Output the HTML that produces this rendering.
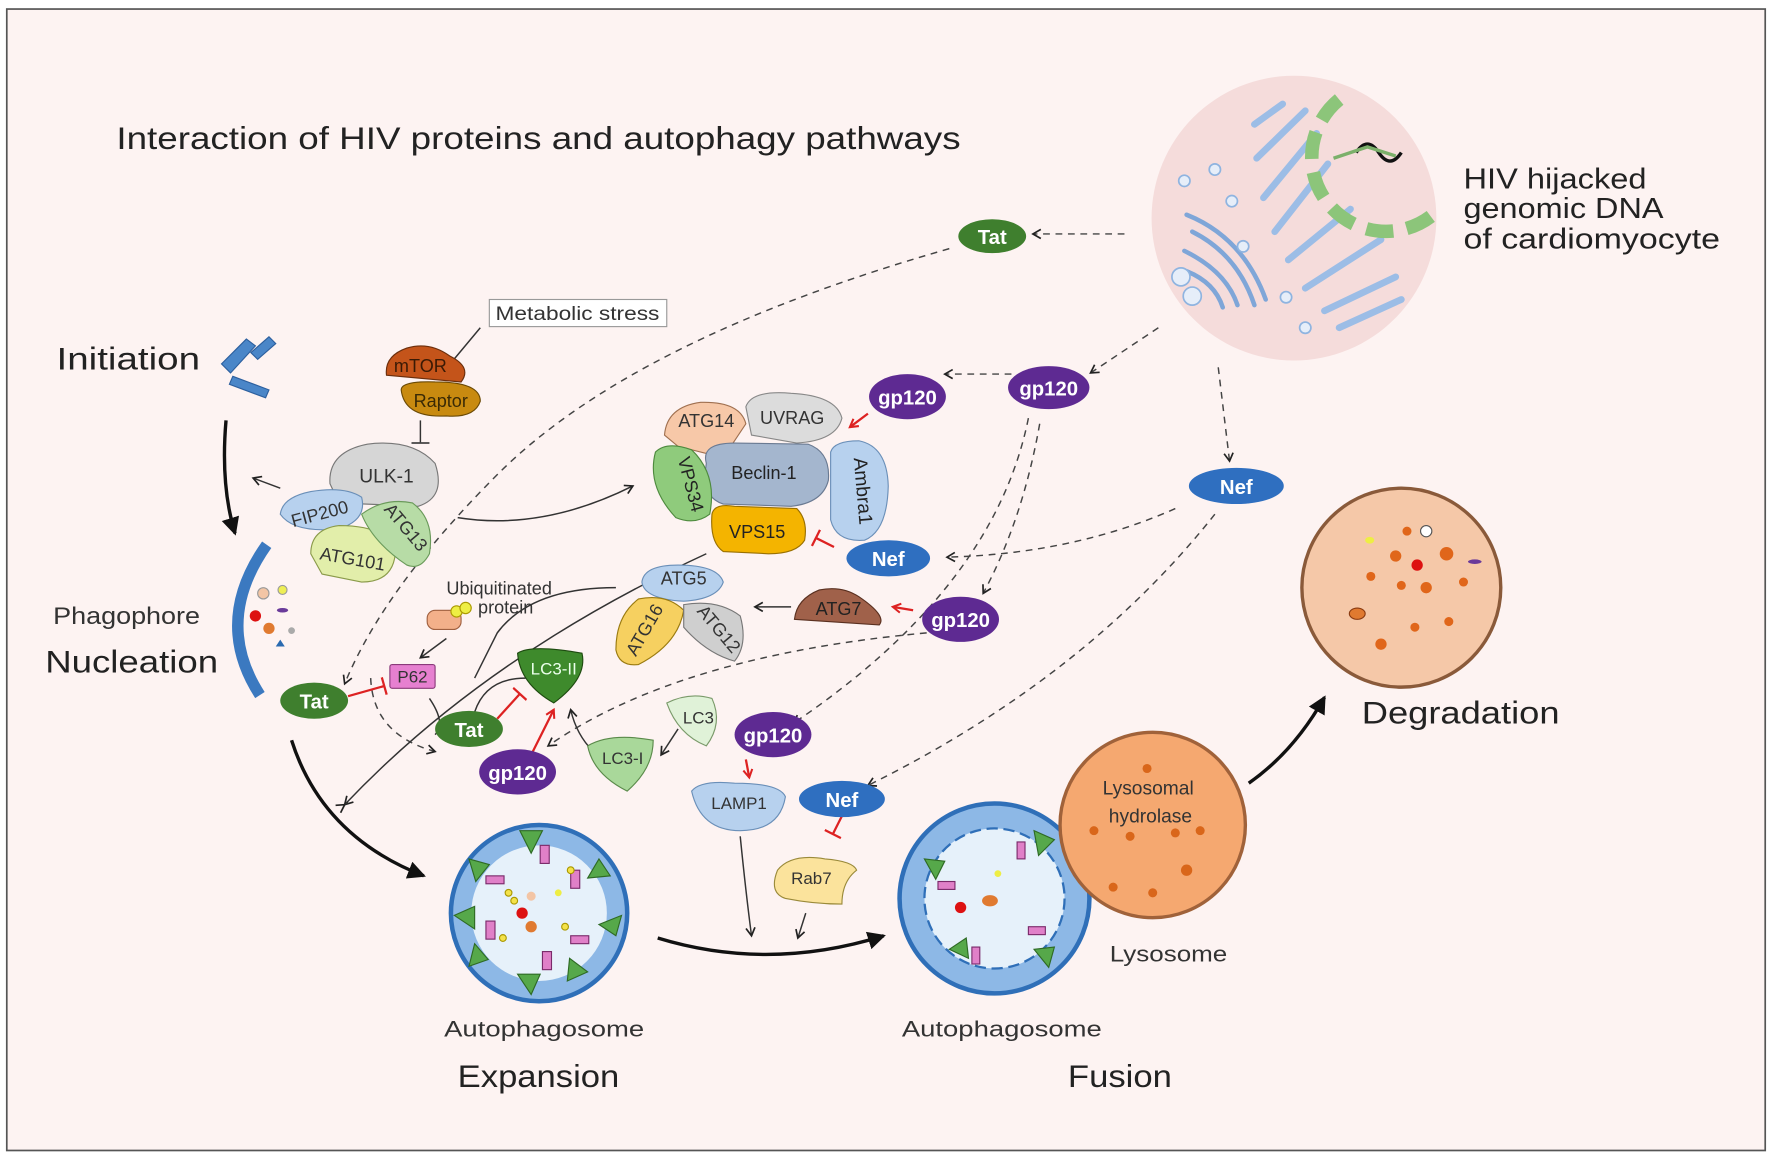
<!DOCTYPE html>
<html><head><meta charset="utf-8"><style>
html,body{margin:0;padding:0;background:#fff}
svg{display:block}
text{font-family:"Liberation Sans",sans-serif}
</style></head><body>
<svg width="1772" height="1155" viewBox="0 0 1568 1022" preserveAspectRatio="none" xmlns="http://www.w3.org/2000/svg">
<defs>
<marker id="a" markerWidth="10" markerHeight="10" refX="8" refY="5" orient="auto" markerUnits="userSpaceOnUse"><path d="M1,1 L8,5 L1,9" fill="none" stroke="#222" stroke-width="1.5"/></marker>
<marker id="ab" markerWidth="20" markerHeight="20" refX="14" refY="10" orient="auto" markerUnits="userSpaceOnUse"><path d="M0,2 L16,10 L0,18 Z" fill="#111"/></marker>
<marker id="ar" markerWidth="10" markerHeight="10" refX="8" refY="5" orient="auto" markerUnits="userSpaceOnUse"><path d="M1,1 L8,5 L1,9" fill="none" stroke="#d22" stroke-width="1.8"/></marker>
<marker id="t" markerWidth="4" markerHeight="16" refX="2" refY="8" orient="auto" markerUnits="userSpaceOnUse"><path d="M2,0 L2,16" stroke="#444" stroke-width="1.5"/></marker>
<marker id="tr" markerWidth="4" markerHeight="16" refX="2" refY="8" orient="auto" markerUnits="userSpaceOnUse"><path d="M2,0 L2,16" stroke="#d22" stroke-width="2"/></marker>
</defs>
<rect x="0" y="0" width="1568" height="1022" fill="#fff"/>
<rect x="6" y="8" width="1556" height="1010" fill="#fdf3f2" stroke="#555" stroke-width="1.5"/>

<text x="103" y="132" font-size="28" fill="#222" textLength="747" lengthAdjust="spacingAndGlyphs">Interaction of HIV proteins and autophagy pathways</text>

<!-- cell -->
<circle cx="1145" cy="193" r="126" fill="#f5dcdb"/>
<g fill="none" stroke="#9cbde6" stroke-width="6" stroke-linecap="round">
<path d="M1110,110 L1135,92 M1112,140 L1155,98 M1118,175 L1165,118 M1128,205 L1175,145 M1140,230 L1195,185 M1155,255 L1222,212 M1172,275 L1235,245 M1185,290 L1240,265"/>
</g>
<g fill="none" stroke="#7fa6d8" stroke-width="4" stroke-linecap="round">
<path d="M1050,190 Q1100,210 1120,265 M1055,205 Q1095,225 1110,270 M1048,222 Q1085,240 1095,270 M1050,240 Q1075,250 1082,272"/>
</g>
<g fill="none" stroke="#8cc57a" stroke-width="12" stroke-dasharray="24 12">
<path d="M1185,88 A62,62 0 1,0 1268,190"/>
</g>
<path d="M1200,135 q10,-15 20,0 q10,15 20,0" stroke="#111" stroke-width="3" fill="none"/>
<path d="M1180,140 l30,-10 l25,8" stroke="#7bb06a" stroke-width="3" fill="none"/>
<g fill="#e6eef9" stroke="#8fb4e0" stroke-width="1.5">
<circle cx="1048" cy="160" r="5"/><circle cx="1075" cy="150" r="5"/><circle cx="1090" cy="178" r="5"/><circle cx="1138" cy="263" r="5"/><circle cx="1155" cy="290" r="5"/><circle cx="1100" cy="218" r="5"/>
<circle cx="1045" cy="245" r="8"/><circle cx="1055" cy="262" r="8"/>
</g>
<text x="1295" y="167" font-size="25" fill="#222" textLength="162" lengthAdjust="spacingAndGlyphs">HIV hijacked</text>
<text x="1295" y="193" font-size="25" fill="#222" textLength="177" lengthAdjust="spacingAndGlyphs">genomic DNA</text>
<text x="1295" y="220" font-size="25" fill="#222" textLength="227" lengthAdjust="spacingAndGlyphs">of cardiomyocyte</text>

<!-- dashed connectors -->
<g fill="none" stroke="#444" stroke-width="1.3" stroke-dasharray="6 5">
<path d="M995,207 L914,207" marker-end="url(#a)"/>
<path d="M840,220 Q560,300 440,420 Q340,520 305,605" marker-end="url(#a)"/>
<path d="M1025,290 L965,330" marker-end="url(#a)"/>
<path d="M895,331 L836,331" marker-end="url(#a)"/>
<path d="M1078,325 L1088,408" marker-end="url(#a)"/>
<path d="M1040,450 Q950,490 838,493" marker-end="url(#a)"/>
<path d="M1075,455 Q960,600 768,695" marker-end="url(#a)"/>
<path d="M920,375 Q905,460 870,525" marker-end="url(#a)"/>
<path d="M910,370 Q880,520 702,640" marker-end="url(#a)"/>
<path d="M820,560 Q600,580 485,660" marker-end="url(#a)"/>
<path d="M328,600 Q330,650 385,665" marker-end="url(#a)"/>
</g>

<!-- solid connectors -->
<g fill="none" stroke="#333" stroke-width="1.3">
<path d="M405,458 Q480,470 560,430" marker-end="url(#a)"/>
<path d="M248,432 L224,423" marker-end="url(#a)"/>
<path d="M425,290 L400,320" marker-end="url(#t)"/>
<path d="M372,372 L372,392" marker-end="url(#t)"/>
<path d="M625,490 Q430,580 305,712" marker-end="url(#a)"/>
<path d="M305,712 L308,710" marker-start="url(#a)"/>
<path d="M395,565 L372,582" marker-end="url(#a)"/>
<path d="M380,618 Q395,640 385,650"/>
<path d="M545,520 Q470,520 440,560 L420,600"/>
<path d="M465,600 Q430,600 420,630"/>
<path d="M700,537 L668,537" marker-end="url(#a)"/>
<path d="M600,645 L585,668" marker-end="url(#a)"/>
<path d="M525,665 Q510,650 505,628" marker-end="url(#a)"/>
<path d="M655,740 Q660,790 665,828" marker-end="url(#a)"/>
<path d="M713,808 L706,830" marker-end="url(#a)"/>
</g>
<!-- red -->
<g fill="none" stroke="#d22" stroke-width="2">
<path d="M768,366 L752,378" marker-end="url(#ar)"/>
<path d="M808,540 L790,537" marker-end="url(#ar)"/>
<path d="M660,672 L663,688" marker-end="url(#ar)"/>
<path d="M470,668 L490,628" marker-end="url(#ar)"/>
<path d="M308,616 L340,607" marker-end="url(#tr)"/>
<path d="M440,636 L460,614" marker-end="url(#tr)"/>
<path d="M738,484 L722,476" marker-end="url(#tr)"/>
<path d="M745,722 L737,738" marker-end="url(#tr)"/>
</g>

<!-- big black arrows -->
<g fill="none" stroke="#111" stroke-width="3">
<path d="M200,372 Q195,430 208,472" marker-end="url(#ab)"/>
<path d="M258,655 Q285,740 375,775" marker-end="url(#ab)"/>
<path d="M582,830 Q680,860 782,828" marker-end="url(#ab)"/>
<path d="M1105,693 Q1145,665 1172,617" marker-end="url(#ab)"/>
</g>

<!-- initiation -->
<text x="50" y="327" font-size="28" fill="#222" textLength="127" lengthAdjust="spacingAndGlyphs">Initiation</text>
<g fill="#4a86c8" stroke="#2c5f9e" stroke-width="1">
<polygon points="196,322 218,300 226,306 204,330"/>
<polygon points="222,312 238,298 244,304 228,318"/>
<polygon points="206,333 238,345 235,352 203,340"/>
</g>
<rect x="433" y="265" width="157" height="24" fill="#fff" stroke="#999"/>
<text x="511" y="283" font-size="17" text-anchor="middle" fill="#333" textLength="145" lengthAdjust="spacingAndGlyphs">Metabolic stress</text>

<!-- mTOR/Raptor -->
<path d="M342,332 Q340,315 360,308 Q380,302 398,315 Q418,325 408,338 Z" fill="#c4541a" stroke="#6b2e0c"/>
<text x="372" y="329" font-size="16" text-anchor="middle" fill="#3a1a05">mTOR</text>
<path d="M355,345 Q355,337 385,338 Q425,338 425,355 Q420,370 395,368 Q358,370 355,345 Z" fill="#c88a10" stroke="#6b4a05"/>
<text x="390" y="360" font-size="16" text-anchor="middle" fill="#3a2a05">Raptor</text>

<!-- ULK complex -->
<path d="M292,428 Q290,400 325,393 Q365,388 385,410 Q395,440 370,448 L300,445 Z" fill="#d6d6d6" stroke="#777"/>
<text x="342" y="427" font-size="17" text-anchor="middle" fill="#333">ULK-1</text>
<path d="M248,455 Q250,440 275,435 Q305,430 320,440 Q325,460 300,468 Q260,472 248,455 Z" fill="#b7d1ee" stroke="#6a8fb8"/>
<text x="283" y="460" font-size="16" text-anchor="middle" fill="#333" transform="rotate(-15 283 455)">FIP200</text>
<path d="M275,490 Q275,468 300,465 Q340,465 350,485 Q350,515 320,515 L285,508 Z" fill="#e2eeaa" stroke="#8a9a4a"/>
<text x="312" y="500" font-size="16" text-anchor="middle" fill="#333" transform="rotate(10 312 495)">ATG101</text>
<path d="M320,455 Q340,440 365,445 Q385,460 380,490 Q372,505 360,500 Q330,480 320,455 Z" fill="#b7dca6" stroke="#6a9a5a"/>
<text x="355" y="470" font-size="16" text-anchor="middle" fill="#333" transform="rotate(50 355 470)">ATG13</text>

<!-- phagophore -->
<path d="M236,482 Q188,550 230,615" fill="none" stroke="#3b79c0" stroke-width="10"/>
<text x="47" y="552" font-size="21" fill="#333" textLength="130" lengthAdjust="spacingAndGlyphs">Phagophore</text>
<text x="40" y="595" font-size="28" fill="#222" textLength="153" lengthAdjust="spacingAndGlyphs">Nucleation</text>
<circle cx="233" cy="525" r="5" fill="#f3c5a5" stroke="#999"/><circle cx="250" cy="522" r="4" fill="#ee5" stroke="#999"/>
<circle cx="226" cy="545" r="5" fill="#d11"/><ellipse cx="250" cy="540" rx="5" ry="2" fill="#6a3a9a"/>
<circle cx="238" cy="556" r="5" fill="#e07a30"/><circle cx="258" cy="558" r="3" fill="#aaa"/><path d="M244,572 l4,-6 l4,6z" fill="#2a6ab0"/>

<!-- Beclin complex -->
<path d="M588,385 Q590,360 620,356 Q655,355 660,375 Q650,390 640,405 L600,395 Z" fill="#f7c8a8" stroke="#a07050"/>
<text x="625" y="378" font-size="16" text-anchor="middle" fill="#333">ATG14</text>
<path d="M660,360 Q665,345 700,348 Q740,350 745,370 Q740,390 705,392 L665,385 Z" fill="#dcdcdc" stroke="#888"/>
<text x="701" y="375" font-size="16" text-anchor="middle" fill="#333">UVRAG</text>
<path d="M625,410 Q620,392 650,392 L715,393 Q735,400 733,425 Q728,445 700,448 L640,446 Q620,440 625,410 Z" fill="#a4b6ce" stroke="#6a7a92"/>
<text x="676" y="424" font-size="16" text-anchor="middle" fill="#222">Beclin-1</text>
<path d="M580,400 Q590,390 612,398 Q635,420 628,455 Q615,465 598,458 Q572,430 580,400 Z" fill="#8fcb7c" stroke="#4e8a3e"/>
<text x="606" y="430" font-size="16" text-anchor="middle" fill="#222" transform="rotate(75 606 430)">VPS34</text>
<path d="M735,400 Q738,390 760,390 Q785,395 786,430 Q785,470 765,478 Q740,480 735,460 Z" fill="#b7d1ee" stroke="#6a8fb8"/>
<text x="758" y="435" font-size="17" text-anchor="middle" fill="#222" transform="rotate(85 758 435)">Ambra1</text>
<path d="M630,455 Q632,445 650,448 L705,450 Q715,460 712,478 Q705,490 680,490 L640,488 Q628,480 630,455 Z" fill="#f4b400" stroke="#9a7000"/>
<text x="670" y="476" font-size="16" text-anchor="middle" fill="#222">VPS15</text>

<!-- ATG5/16/12 -->
<path d="M568,515 Q570,500 600,500 Q635,500 640,515 Q635,530 605,532 Q570,530 568,515 Z" fill="#b7d1ee" stroke="#6a8fb8"/>
<text x="605" y="517" font-size="16" text-anchor="middle" fill="#333">ATG5</text>
<path d="M545,575 Q545,545 565,530 Q590,525 605,540 Q600,570 565,588 Q548,590 545,575 Z" fill="#f6d060" stroke="#9a7a10"/>
<text x="575" y="560" font-size="16" text-anchor="middle" fill="#333" transform="rotate(-60 575 560)">ATG16</text>
<path d="M605,535 Q635,530 655,545 Q662,570 650,585 Q625,578 605,555 Z" fill="#cfcfcf" stroke="#777"/>
<text x="632" y="560" font-size="16" text-anchor="middle" fill="#333" transform="rotate(50 632 560)">ATG12</text>

<path d="M703,548 Q705,530 725,522 Q745,518 760,528 Q785,545 778,553 Z" fill="#a0614a" stroke="#5a3020"/>
<text x="742" y="544" font-size="16" text-anchor="middle" fill="#222">ATG7</text>

<!-- ubiquitinated -->
<text x="395" y="526" font-size="16" fill="#333">Ubiquitinated</text>
<text x="423" y="543" font-size="16" fill="#333">protein</text>
<rect x="378" y="540" width="30" height="17" rx="7" fill="#f3b08a" stroke="#a06040"/>
<circle cx="404" cy="541" r="5" fill="#ee4" stroke="#a90"/><circle cx="412" cy="538" r="5" fill="#ee4" stroke="#a90"/>
<rect x="345" y="588" width="40" height="21" rx="2" fill="#e680d0" stroke="#8a3a7a"/>
<text x="365" y="604" font-size="15" text-anchor="middle" fill="#333">P62</text>

<!-- LC3s -->
<path d="M458,578 Q470,570 515,578 Q520,600 490,622 Q460,605 458,578 Z" fill="#3e8a2c" stroke="#1e4a10"/>
<text x="490" y="597" font-size="15" text-anchor="middle" fill="#eaffea">LC3-II</text>
<path d="M590,622 Q610,612 630,618 Q640,640 625,660 Q600,650 590,622 Z" fill="#e0f2d8" stroke="#7a9a6a"/>
<text x="618" y="640" font-size="15" text-anchor="middle" fill="#333">LC3</text>
<path d="M520,660 Q540,648 578,655 Q578,680 555,700 Q525,685 520,660 Z" fill="#a9d89a" stroke="#5a8a4a"/>
<text x="551" y="676" font-size="15" text-anchor="middle" fill="#333">LC3-I</text>
<path d="M612,700 Q620,690 650,693 Q690,693 695,705 Q690,735 655,735 Q620,735 612,700 Z" fill="#b7d1ee" stroke="#6a8fb8"/>
<text x="654" y="716" font-size="15" text-anchor="middle" fill="#333">LAMP1</text>
<path d="M688,770 Q700,755 730,760 Q755,762 758,770 Q745,780 745,800 Q720,800 695,795 Q680,790 688,770 Z" fill="#fbe39c" stroke="#9a8a3a"/>
<text x="718" y="782" font-size="15" text-anchor="middle" fill="#333">Rab7</text>

<!-- ovals -->
<g font-size="18" text-anchor="middle" font-weight="bold" fill="#fff">
<ellipse cx="878" cy="209" rx="30" ry="15" fill="#3f7f2e"/><text x="878" y="216">Tat</text>
<ellipse cx="278" cy="620" rx="30" ry="16" fill="#3f7f2e"/><text x="278" y="627">Tat</text>
<ellipse cx="415" cy="645" rx="30" ry="16" fill="#3f7f2e"/><text x="415" y="652">Tat</text>
<ellipse cx="1094" cy="430" rx="42" ry="16" fill="#2f6fc0"/><text x="1094" y="437">Nef</text>
<ellipse cx="786" cy="494" rx="37" ry="16" fill="#2f6fc0"/><text x="786" y="501">Nef</text>
<ellipse cx="745" cy="707" rx="38" ry="16" fill="#2f6fc0"/><text x="745" y="714">Nef</text>
<ellipse cx="803" cy="351" rx="34" ry="20" fill="#5e2a92"/><text x="803" y="358">gp120</text>
<ellipse cx="928" cy="343" rx="36" ry="19" fill="#5e2a92"/><text x="928" y="350">gp120</text>
<ellipse cx="850" cy="548" rx="34" ry="20" fill="#5e2a92"/><text x="850" y="555">gp120</text>
<ellipse cx="684" cy="650" rx="34" ry="20" fill="#5e2a92"/><text x="684" y="657">gp120</text>
<ellipse cx="458" cy="683" rx="34" ry="20" fill="#5e2a92"/><text x="458" y="690">gp120</text>
</g>

<!-- autophagosome 1 -->
<circle cx="477" cy="808" r="78" fill="#8db8e6" stroke="#2f6fb8" stroke-width="4"/>
<circle cx="477" cy="808" r="60" fill="#e6f1fa"/>
<g fill="#56a84a" stroke="#2e6a24">
<path d="M460,735 l20,0 l-10,20z"/><path d="M530,760 l10,15 l-20,2z"/><path d="M550,810 l-5,18 l-15,-10z"/><path d="M520,860 l-18,8 l2,-20z"/><path d="M470,880 l-12,-18 l20,0z"/><path d="M415,855 l5,-20 l12,14z"/><path d="M402,810 l18,-8 l0,20z"/><path d="M415,760 l18,5 l-12,15z"/>
</g>
<g fill="#e080c8" stroke="#7a2a6a"><rect x="478" y="748" width="8" height="16"/><rect x="505" y="770" width="8" height="16"/><rect x="430" y="775" width="16" height="7"/><rect x="430" y="815" width="8" height="16"/><rect x="505" y="828" width="16" height="7"/><rect x="480" y="842" width="8" height="16"/></g>
<g fill="#f4e24a" stroke="#a90"><circle cx="450" cy="790" r="3"/><circle cx="455" cy="797" r="3"/><circle cx="500" cy="820" r="3"/><circle cx="445" cy="830" r="3"/><circle cx="505" cy="770" r="3"/></g>
<circle cx="462" cy="808" r="5" fill="#d11"/><circle cx="470" cy="820" r="5" fill="#e07a30"/><circle cx="470" cy="793" r="4" fill="#f3c5a5"/><circle cx="494" cy="790" r="3" fill="#ee4"/>
<circle cx="880" cy="795" r="84" fill="#8db8e6" stroke="#2f6fb8" stroke-width="4"/>
<circle cx="880" cy="795" r="62" fill="#e6f1fa" stroke="#2f6fb8" stroke-width="2" stroke-dasharray="10 5"/>
<g fill="#56a84a" stroke="#2e6a24">
<path d="M915,735 l18,8 l-14,14z"/><path d="M818,760 l18,2 l-8,16z"/><path d="M840,840 l15,-10 l2,18z"/><path d="M915,840 l18,-2 l-5,18z"/>
</g>
<g fill="#e080c8" stroke="#7a2a6a"><rect x="900" y="745" width="7" height="15"/><rect x="830" y="780" width="15" height="7"/><rect x="860" y="838" width="7" height="15"/><rect x="910" y="820" width="15" height="7"/></g>
<circle cx="850" cy="803" r="5" fill="#d11"/><ellipse cx="876" cy="797" rx="7" ry="5" fill="#e07a30"/><circle cx="883" cy="773" r="3" fill="#ee4"/>

<!-- lysosome -->
<circle cx="1020" cy="730" r="82" fill="#f5a870" stroke="#a0623a" stroke-width="3"/>
<g fill="#d9661a"><circle cx="968" cy="735" r="4"/><circle cx="1040" cy="737" r="4"/><circle cx="1062" cy="735" r="4"/><circle cx="1000" cy="740" r="4"/><circle cx="1050" cy="770" r="5"/><circle cx="985" cy="785" r="4"/><circle cx="1020" cy="790" r="4"/><circle cx="1015" cy="680" r="4"/></g>
<text x="1016" y="703" font-size="17" text-anchor="middle" fill="#333">Lysosomal</text>
<text x="1018" y="728" font-size="17" text-anchor="middle" fill="#333">hydrolase</text>
<text x="982" y="851" font-size="20" fill="#333" textLength="104" lengthAdjust="spacingAndGlyphs">Lysosome</text>

<!-- degradation -->
<circle cx="1240" cy="520" r="88" fill="#f5c8a8" stroke="#8a5a3a" stroke-width="3"/>
<g fill="#e0661a"><circle cx="1235" cy="492" r="5"/><circle cx="1280" cy="490" r="6"/><circle cx="1213" cy="510" r="4"/><circle cx="1240" cy="518" r="4"/><circle cx="1262" cy="520" r="5"/><circle cx="1295" cy="515" r="4"/><circle cx="1282" cy="550" r="4"/><circle cx="1222" cy="570" r="5"/><circle cx="1252" cy="555" r="4"/><circle cx="1245" cy="470" r="4"/></g>
<ellipse cx="1201" cy="543" rx="7" ry="5" fill="#e07a30" stroke="#8a3a10"/><circle cx="1254" cy="500" r="5" fill="#d11"/><circle cx="1262" cy="470" r="5" fill="#fff" stroke="#555"/><ellipse cx="1212" cy="478" rx="4" ry="3" fill="#ee4"/><ellipse cx="1305" cy="497" rx="6" ry="2" fill="#6a3a9a"/>
<text x="1205" y="640" font-size="28" fill="#222" textLength="175" lengthAdjust="spacingAndGlyphs">Degradation</text>

<text x="393" y="917" font-size="20" fill="#333" textLength="177" lengthAdjust="spacingAndGlyphs">Autophagosome</text>
<text x="405" y="962" font-size="28" fill="#222" textLength="143" lengthAdjust="spacingAndGlyphs">Expansion</text>
<text x="798" y="917" font-size="20" fill="#333" textLength="177" lengthAdjust="spacingAndGlyphs">Autophagosome</text>
<text x="945" y="962" font-size="28" fill="#222" textLength="92" lengthAdjust="spacingAndGlyphs">Fusion</text>
</svg>
</body></html>
